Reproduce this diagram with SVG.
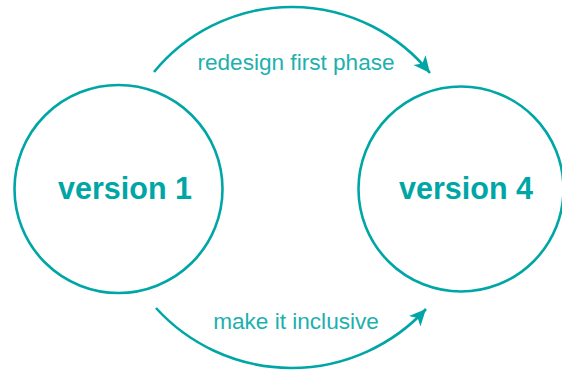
<svg xmlns="http://www.w3.org/2000/svg" width="562" height="370" viewBox="0 0 562 370">
<style>
.node{fill:none;stroke:#00a6a6;stroke-width:2.6}
.lbl{font-family:"Liberation Sans",Arial,sans-serif;font-weight:bold;font-size:30.5px;fill:#00a6a6;text-anchor:middle}
.edge{fill:none;stroke:#00a6a6;stroke-width:2.6}
.elbl{font-family:"Liberation Sans",Arial,sans-serif;font-size:22.6px;fill:#1db0ae;text-anchor:middle}
</style>
<defs>
<marker id="arr" markerUnits="userSpaceOnUse" markerWidth="20" markerHeight="20" viewBox="-16 -8 18 16" refX="0" refY="0" orient="auto">
<path d="M0,0 L-15,-7 L-11,0 L-15,7 Z" fill="#00a6a6"/>
</marker>
</defs>
<g id="node-v1">
<circle class="node" cx="118.5" cy="189" r="104"/>
<text class="lbl" x="125" y="199">version 1</text>
</g>
<g id="node-v4">
<circle class="node" cx="461" cy="189" r="102.5"/>
<text class="lbl" x="466" y="199">version 4</text>
</g>
<g id="connectors">
<path class="edge" d="M154,72 A178,178 0 0 1 430,73" marker-end="url(#arr)"/>
<text class="elbl" x="296" y="70">redesign first phase</text>
<path class="edge" d="M156,308 A183,183 0 0 0 426,309" marker-end="url(#arr)"/>
<text class="elbl" x="296" y="329">make it inclusive</text>
</g>
</svg>
